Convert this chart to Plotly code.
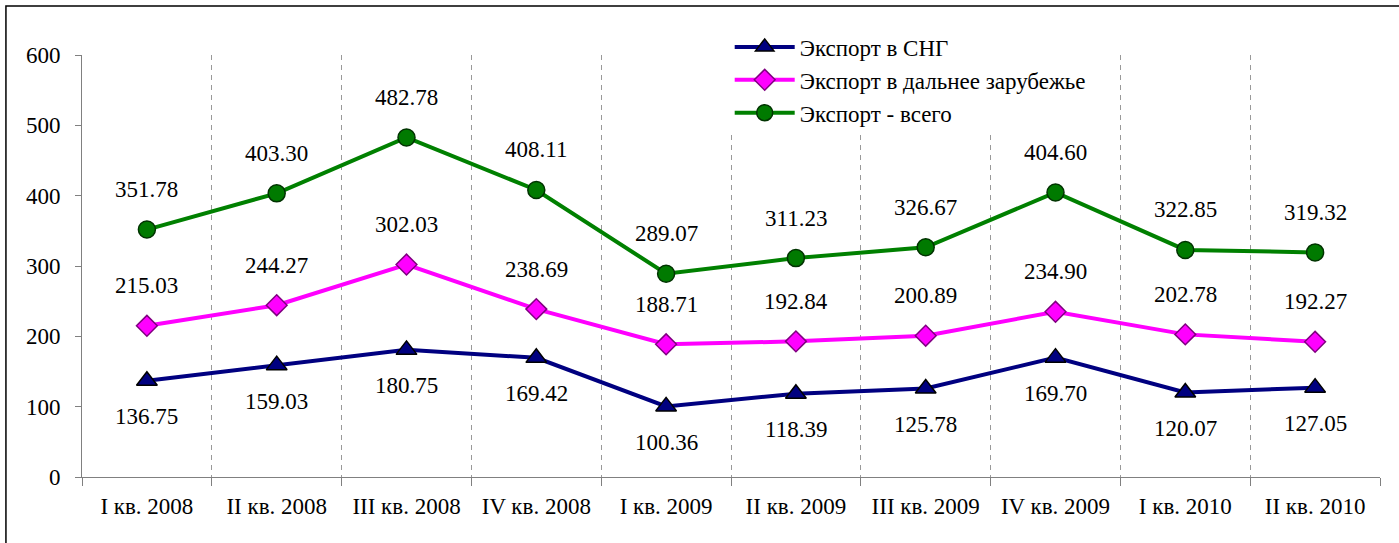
import plotly.graph_objects as go

categories = ["I кв. 2008", "II кв. 2008", "III кв. 2008", "IV кв. 2008",
              "I кв. 2009", "II кв. 2009", "III кв. 2009", "IV кв. 2009",
              "I кв. 2010", "II кв. 2010"]
export_cis = [136.75, 159.03, 180.75, 169.42, 100.36, 118.39, 125.78, 169.70, 120.07, 127.05]
export_far = [215.03, 244.27, 302.03, 238.69, 188.71, 192.84, 200.89, 234.90, 202.78, 192.27]
export_total = [351.78, 403.30, 482.78, 408.11, 289.07, 311.23, 326.67, 404.60, 322.85, 319.32]
y_ticks = [0, 100, 200, 300, 400, 500, 600]

FONT = "Liberation Serif"
FS = 23

fig = go.Figure()
fig.add_trace(go.Scatter(
    x=categories, y=export_cis, name="Экспорт в СНГ", mode="lines+markers",
    line=dict(color="#000080", width=4),
    marker=dict(symbol="triangle-up", size=18, color="#000080", line=dict(color="#000000", width=1.5))))
fig.add_trace(go.Scatter(
    x=categories, y=export_far, name="Экспорт в дальнее зарубежье", mode="lines+markers",
    line=dict(color="#FF00FF", width=4),
    marker=dict(symbol="diamond", size=16, color="#FF00FF", line=dict(color="#800080", width=1.5))))
fig.add_trace(go.Scatter(
    x=categories, y=export_total, name="Экспорт - всего", mode="lines+markers",
    line=dict(color="#008000", width=4),
    marker=dict(symbol="circle", size=17, color="#007A00", line=dict(color="#003300", width=1.5))))

annotations = []
for series, shift in ((export_cis, -36), (export_far, 40), (export_total, 40)):
    for c, v in zip(categories, series):
        annotations.append(dict(x=c, y=v, text=f"{v:.2f}", showarrow=False, yshift=shift,
                                font=dict(family=FONT, size=FS, color="#000000")))

fig.update_layout(
    width=1399, height=543,
    margin=dict(l=82, r=19, t=55, b=66, autoexpand=False),
    paper_bgcolor="white", plot_bgcolor="white",
    font=dict(family=FONT, size=FS, color="#000000"),
    showlegend=True,
    legend=dict(x=0.499, y=1.07, xanchor="left", yanchor="top", bgcolor="white",
                font=dict(family=FONT, size=FS, color="#000000"),
                itemwidth=60, tracegroupgap=0, traceorder="normal"),
    annotations=annotations,
    xaxis=dict(type="category", range=[-0.5, 9.5], tickson="boundaries", automargin=False,
               showgrid=True, gridcolor="#999999", gridwidth=1, griddash="5px,5px",
               showline=True, linecolor="#808080", linewidth=1,
               ticks="outside", ticklen=8, tickcolor="#808080",
               ticklabelstandoff=8, tickfont=dict(family=FONT, size=FS)),
    yaxis=dict(range=[0, 600], tickvals=y_ticks, showgrid=False, zeroline=False, automargin=False,
               showline=True, linecolor="#808080", linewidth=1,
               ticks="outside", ticklen=6, tickcolor="#808080",
               ticklabelstandoff=10, tickfont=dict(family=FONT, size=FS)),
    shapes=[dict(type="rect", xref="paper", yref="paper",
                 x0=-0.0586, x1=1.05, y0=-0.3, y1=1.116,
                 line=dict(color="#000000", width=1.5), fillcolor="rgba(0,0,0,0)", layer="above")],
)

fig.write_html("out.html", config={"displayModeBar": False},
               post_script="document.body.style.margin='0';")
